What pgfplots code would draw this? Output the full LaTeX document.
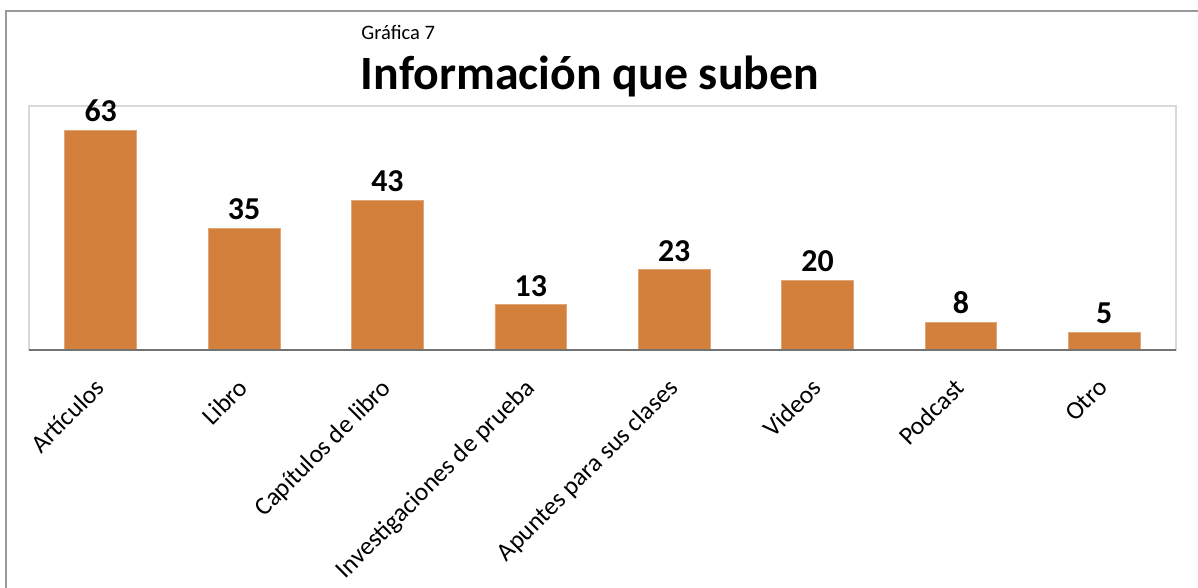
\documentclass[border=0pt]{standalone}
\usepackage{pgfplots}
\pgfplotsset{compat=1.18}
\usepackage{fontspec}
\setmainfont{Carlito}
\definecolor{barorange}{HTML}{D3803C}
\begin{document}
\begin{tikzpicture}
\useasboundingbox (0,0) rectangle (599bp,294bp);
\draw[color=black!40, line width=0.9bp] (3bp,-5bp) -- (3bp,288.5bp) -- (604bp,288.5bp);
\node[font=\fontsize{10.3}{12}\selectfont, anchor=base west, inner sep=0pt] at (180.5bp,274bp) {Gráfica 7};
\node[font=\fontsize{24}{28}\selectfont\bfseries, anchor=base, inner sep=0pt] at (295bp,249bp) {Información que suben};
\begin{axis}[
  at={(14.5bp,119bp)}, anchor=south west,
  scale only axis, width=573.5bp, height=122bp,
  xmin=-0.5, xmax=7.5, ymin=0, ymax=70,
  ybar, bar width=0.5,
  axis line style={draw=black!15, line width=0.8bp},
  ytick=\empty,
  xtick={0,1,2,3,4,5,6,7},
  xticklabels={Artículos, Libro, Capítulos de libro, Investigaciones de prueba, Apuntes para sus clases, Videos, Podcast, Otro},
  major tick length=0pt,
  xticklabel style={rotate=45, anchor=north east, inner sep=0pt, font=\fontsize{12.8}{15}\selectfont, xshift=-12bp, yshift=-6.7bp},
  /pgf/number format/assume math mode=true,
  nodes near coords,
  every node near coord/.append style={font=\fontsize{16}{18}\selectfont\bfseries, inner sep=0pt, yshift=4bp},
  clip=false,
]
\addplot[fill=barorange, draw=barorange!70!white, line width=0.4bp] coordinates {(0,63) (1,35) (2,43) (3,13) (4,23) (5,20) (6,8) (7,5)};
\draw[color=black!55, line width=1.2bp] (rel axis cs:0,0) -- (rel axis cs:1,0);
\end{axis}
\end{tikzpicture}
\end{document}
